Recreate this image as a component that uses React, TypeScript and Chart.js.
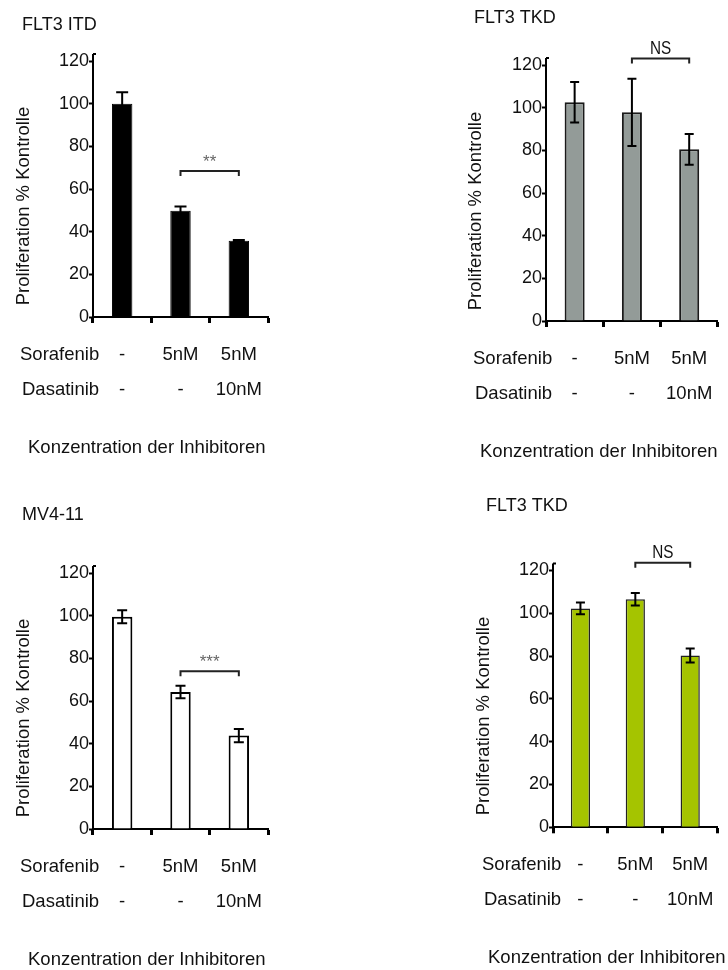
import React, { useEffect, useRef } from 'react';
import { Chart, registerables } from 'chart.js';

Chart.register(...registerables);

const FONT = '"Liberation Sans", Arial, Helvetica, sans-serif';

// ---- data ----
const categories = ['Kontrolle', 'Sorafenib', 'Sorafenib + Dasatinib'];
const sorafenibRow = ['-', '5nM', '5nM'];
const dasatinibRow = ['-', '-', '10nM'];
const rowNames = ['Sorafenib', 'Dasatinib'];
const yMin = 0;
const yMax = 120;
const yStep = 20;

const itdMeans = [100, 49.8, 35.8];
const itdErrors = [5.4, 2.0, 0.3];
const tkdMeans = [102.5, 97.8, 80.5];
const tkdErrors = [9.5, 15.8, 7.2];
const mv411Means = [99.5, 64.2, 43.8];
const mv411Errors = [3.0, 2.9, 3.1];
const tkd2Means = [102.3, 106.6, 80.3];
const tkd2Errors = [2.8, 2.9, 3.3];

const panelTitles = ['FLT3 ITD', 'FLT3 TKD', 'MV4-11', 'FLT3 TKD'];
const sigLabels = ['**', 'NS', '***', 'NS'];
const sigValues = [68.4, 123, 73.9, 123.6];
const sigFrom = 1;
const sigTo = 2;
const yTitle = 'Proliferation % Kontrolle';
const xTitle = 'Konzentration der Inhibitoren';

// ---- layout / style per panel ----
type Cfg = {
  ox: number; oy: number; w: number; h: number;
  L: number; R: number; T: number; B: number;
  means: number[]; errors: number[];
  fill: string; border: string; borderWidth: number; cap: number;
  title: string; titleX: number; titleY: number;
  yTitleX: number; yTitleY: number;
  rowX: number[]; xTitleX: number;
  sig: string; sigValue: number; sigColor: string; sigSize: number; sigScale: number; sigGap: number;
};

const panels: Cfg[] = [
  {
    ox: 0, oy: 0, w: 364, h: 485, L: 93, R: 268, T: 61, B: 317,
    means: itdMeans, errors: itdErrors, fill: '#000000', border: '#000000', borderWidth: 1, cap: 6,
    title: panelTitles[0], titleX: 22, titleY: 25, yTitleX: 24, yTitleY: 206,
    rowX: [20, 22], xTitleX: 28, sig: sigLabels[0], sigValue: sigValues[0], sigColor: '#666', sigSize: 17, sigScale: 1, sigGap: 9,
  },
  {
    ox: 364, oy: 0, w: 364, h: 485, L: 182, R: 357, T: 65, B: 321,
    means: tkdMeans, errors: tkdErrors, fill: '#939b98', border: '#1a1a1a', borderWidth: 2, cap: 4.5,
    title: panelTitles[1], titleX: 110, titleY: 18, yTitleX: 112, yTitleY: 211,
    rowX: [109, 111], xTitleX: 116, sig: sigLabels[1], sigValue: sigValues[1], sigColor: '#111', sigSize: 18, sigScale: 0.85, sigGap: 10,
  },
  {
    ox: 0, oy: 485, w: 364, h: 485, L: 93, R: 268, T: 88, B: 344,
    means: mv411Means, errors: mv411Errors, fill: '#ffffff', border: '#000000', borderWidth: 2, cap: 5,
    title: panelTitles[2], titleX: 22, titleY: 30, yTitleX: 24, yTitleY: 233,
    rowX: [20, 22], xTitleX: 28, sig: sigLabels[2], sigValue: sigValues[2], sigColor: '#666', sigSize: 17, sigScale: 1, sigGap: 9,
  },
  {
    ox: 364, oy: 485, w: 364, h: 485, L: 189, R: 363, T: 85.5, B: 342.3,
    means: tkd2Means, errors: tkd2Errors, fill: '#a5c400', border: '#222222', borderWidth: 1.5, cap: 4.5,
    title: panelTitles[3], titleX: 122, titleY: 21, yTitleX: 120, yTitleY: 231,
    rowX: [118, 120], xTitleX: 124, sig: sigLabels[3], sigValue: sigValues[3], sigColor: '#111', sigSize: 18, sigScale: 0.85, sigGap: 10,
  },
];

function makePlugin(cfg: Cfg) {
  return {
    id: 'panelDecor',
    afterDraw(chart: any) {
      const ctx: CanvasRenderingContext2D = chart.ctx;
      const xs = chart.scales.x;
      const ys = chart.scales.y;
      const area = chart.chartArea;
      ctx.save();

      // axis extension above the top tick
      ctx.strokeStyle = '#000';
      ctx.lineWidth = 2;
      ctx.beginPath();
      ctx.moveTo(area.left, area.top - 7);
      ctx.lineTo(area.left, area.top);
      ctx.stroke();
      ctx.beginPath();
      ctx.moveTo(area.left, area.top - 7);
      ctx.lineTo(area.left + 3, area.top - 7);
      ctx.stroke();

      // error bars
      ctx.strokeStyle = '#000';
      ctx.lineWidth = 2;
      cfg.means.forEach((m, i) => {
        const x = xs.getPixelForValue(i);
        const yTop = ys.getPixelForValue(m + cfg.errors[i]);
        const yBot = ys.getPixelForValue(m - cfg.errors[i]);
        ctx.beginPath();
        ctx.moveTo(x, yTop);
        ctx.lineTo(x, yBot);
        ctx.moveTo(x - cfg.cap, yTop);
        ctx.lineTo(x + cfg.cap, yTop);
        ctx.moveTo(x - cfg.cap, yBot);
        ctx.lineTo(x + cfg.cap, yBot);
        ctx.stroke();
      });

      // significance bracket
      const bx1 = xs.getPixelForValue(sigFrom);
      const bx2 = xs.getPixelForValue(sigTo);
      const by = ys.getPixelForValue(cfg.sigValue);
      ctx.lineWidth = 2;
      ctx.strokeStyle = '#222';
      ctx.beginPath();
      ctx.moveTo(bx1, by + 5);
      ctx.lineTo(bx1, by);
      ctx.lineTo(bx2, by);
      ctx.lineTo(bx2, by + 5);
      ctx.stroke();
      ctx.save();
      ctx.fillStyle = cfg.sigColor;
      ctx.font = `${cfg.sigSize}px ${FONT}`;
      ctx.textAlign = 'center';
      ctx.textBaseline = 'middle';
      ctx.translate((bx1 + bx2) / 2, by - cfg.sigGap);
      ctx.scale(cfg.sigScale, 1);
      ctx.fillText(cfg.sig, 0, 0);
      ctx.restore();

      // panel title
      ctx.fillStyle = '#111';
      ctx.font = `18px ${FONT}`;
      ctx.textAlign = 'left';
      ctx.textBaseline = 'middle';
      ctx.fillText(cfg.title, cfg.titleX, cfg.titleY);

      // row labels
      ctx.font = `18.5px ${FONT}`;
      rowNames.forEach((name, r) => {
        ctx.fillText(name, cfg.rowX[r], area.bottom + 38 + r * 35);
      });

      // x title
      ctx.fillText(xTitle, cfg.xTitleX, area.bottom + 131);

      // y title
      ctx.save();
      ctx.translate(cfg.yTitleX, cfg.yTitleY);
      ctx.rotate(-Math.PI / 2);
      ctx.textAlign = 'center';
      ctx.font = `18.5px ${FONT}`;
      ctx.fillText(yTitle, 0, 0);
      ctx.restore();

      ctx.restore();
    },
  };
}

function Panel({ cfg }: { cfg: Cfg }) {
  const ref = useRef<HTMLCanvasElement>(null);
  useEffect(() => {
    const canvas = ref.current;
    if (!canvas) return;
    const chart = new Chart(canvas, {
      type: 'bar',
      data: {
        labels: categories.map((_, i) => [sorafenibRow[i], dasatinibRow[i]]),
        datasets: [
          {
            data: cfg.means,
            backgroundColor: cfg.fill,
            borderColor: cfg.border,
            borderWidth: cfg.borderWidth,
            barPercentage: 0.35,
            categoryPercentage: 1,
          },
        ],
      },
      options: {
        responsive: false,
        animation: false,
        events: [],
        layout: { padding: { left: 0, top: cfg.T, right: cfg.w - cfg.R, bottom: 0 } },
        plugins: { legend: { display: false }, tooltip: { enabled: false }, title: { display: false } },
        scales: {
          x: {
            type: 'category',
            offset: true,
            grid: {
              offset: true,
              drawOnChartArea: false,
              drawTicks: true,
              tickLength: 6,
              tickWidth: 3,
              tickColor: '#000',
            },
            border: { display: true, color: '#000', width: 2 },
            ticks: {
              font: { family: FONT, size: 18.5, lineHeight: 35 / 18.5 },
              color: '#111',
              padding: 14.5,
              maxRotation: 0,
              autoSkip: false,
            },
            afterFit: (s: any) => {
              s.height = cfg.h - cfg.B;
            },
          },
          y: {
            min: yMin,
            max: yMax,
            ticks: { stepSize: yStep, font: { family: FONT, size: 18 }, color: '#111', padding: 0 },
            grid: { drawOnChartArea: false, tickLength: 4, tickWidth: 2, tickColor: '#000' },
            border: { color: '#000', width: 2 },
            afterFit: (s: any) => {
              s.width = cfg.L;
            },
          },
        },
      } as any,
      plugins: [makePlugin(cfg)],
    });
    return () => chart.destroy();
  }, [cfg]);
  return (
    <canvas
      ref={ref}
      width={cfg.w}
      height={cfg.h}
      style={{ position: 'absolute', left: cfg.ox, top: cfg.oy, width: cfg.w, height: cfg.h }}
    />
  );
}

export default function App() {
  return (
    <div style={{ position: 'absolute', left: 0, top: 0, width: 728, height: 970, background: '#fff' }}>
      {panels.map((p, i) => (
        <Panel key={i} cfg={p} />
      ))}
    </div>
  );
}
